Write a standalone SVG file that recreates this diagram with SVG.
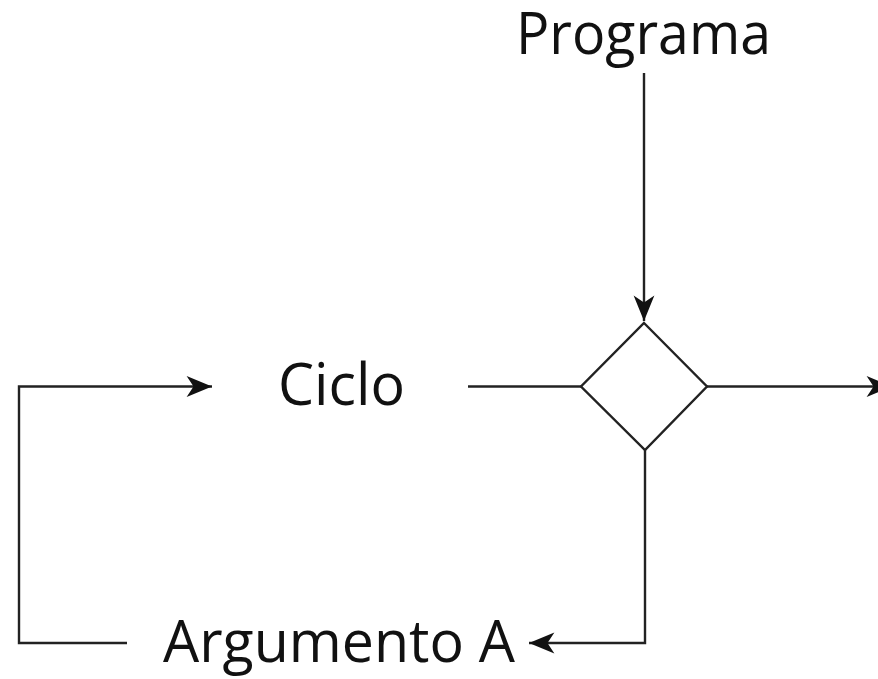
<svg xmlns="http://www.w3.org/2000/svg" width="878" height="679" viewBox="0 0 878 679">
<defs>
<style>
.lbl{font-family:"Open Sans","Noto Sans","Liberation Sans",sans-serif;font-size:59px;fill:#111}
.ln{fill:none;stroke:#222;stroke-width:2.4}
</style>
<marker id="arr" markerUnits="userSpaceOnUse" markerWidth="30" markerHeight="30" viewBox="-24 -12 26 24" refX="0" refY="0" orient="auto">
<path d="M0,0 L-22,-9 L-16,0 L-22,9 Z" fill="#111"/>
</marker>
</defs>
<rect width="878" height="679" fill="#fff"/>
<g id="connectors">
<path class="ln" d="M644,73 V321" marker-end="url(#arr)"/>
<path class="ln" d="M468,386.5 H581"/>
<path class="ln" d="M707,386.5 H892" marker-end="url(#arr)"/>
<path class="ln" d="M645,450 V643 H529" marker-end="url(#arr)"/>
<path class="ln" d="M127,643 H19 V386.5 H212" marker-end="url(#arr)"/>
</g>
<g id="programa"><text class="lbl" x="516" y="54" textLength="255" lengthAdjust="spacingAndGlyphs">Programa</text></g>
<g id="ciclo"><text class="lbl" x="278" y="405" textLength="127" lengthAdjust="spacingAndGlyphs">Ciclo</text></g>
<g id="decision"><polygon points="644,323 707,386.5 645,450 581,386.5" fill="#fff" stroke="#222" stroke-width="2.4"/></g>
<g id="argumento"><text class="lbl" x="163" y="662" textLength="352" lengthAdjust="spacingAndGlyphs">Argumento A</text></g>
</svg>
